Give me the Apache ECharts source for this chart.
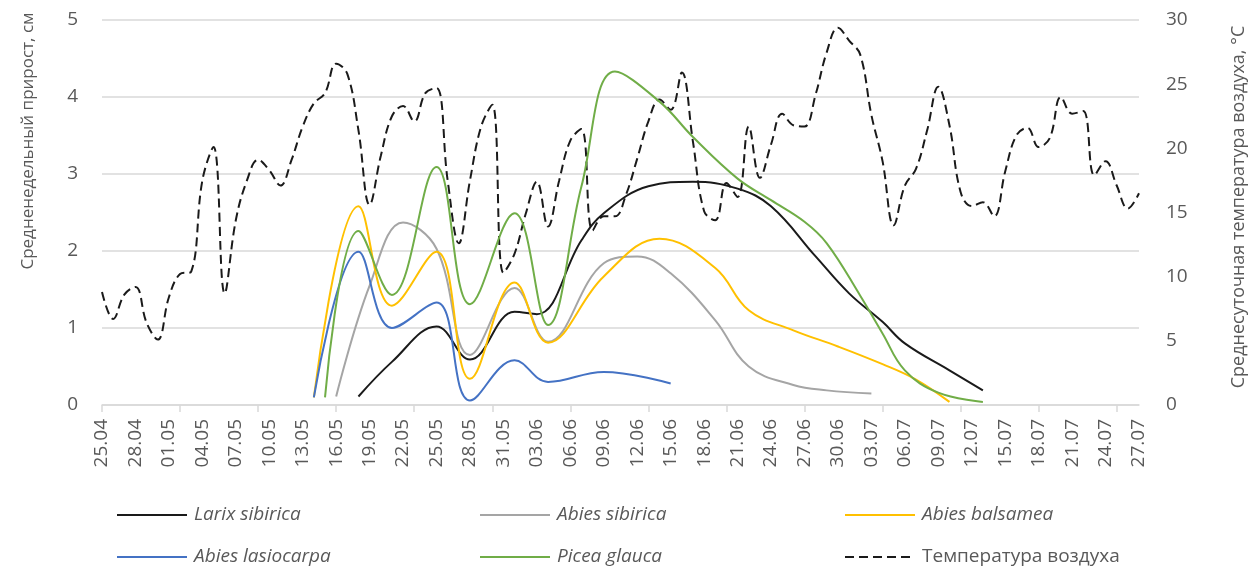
<!DOCTYPE html>
<html>
<head>
<meta charset="utf-8">
<script src="https://cdn.jsdelivr.net/npm/echarts@6/dist/echarts.min.js"></script>
<style>
html,body{margin:0;padding:0;background:#fff;}
#chart{width:1248px;height:570px;}
</style>
</head>
<body>
<div id="chart"></div>
<script>
// Daily categories 25.04 – 27.07
const dates = [
'25.04','26.04','27.04','28.04','29.04','30.04',
'01.05','02.05','03.05','04.05','05.05','06.05','07.05','08.05','09.05','10.05',
'11.05','12.05','13.05','14.05','15.05','16.05','17.05','18.05','19.05','20.05',
'21.05','22.05','23.05','24.05','25.05','26.05','27.05','28.05','29.05','30.05','31.05',
'01.06','02.06','03.06','04.06','05.06','06.06','07.06','08.06','09.06','10.06',
'11.06','12.06','13.06','14.06','15.06','16.06','17.06','18.06','19.06','20.06',
'21.06','22.06','23.06','24.06','25.06','26.06','27.06','28.06','29.06','30.06',
'01.07','02.07','03.07','04.07','05.07','06.07','07.07','08.07','09.07','10.07',
'11.07','12.07','13.07','14.07','15.07','16.07','17.07','18.07','19.07','20.07',
'21.07','22.07','23.07','24.07','25.07','26.07','27.07'
];

// Mean daily air temperature, °C (right axis)
const temperature = [
8.8,6.7,8.6,9.2,6.4,5.1,8.4,10.2,10.4,17.5,
20.1,8.7,14.4,17.5,19.1,18.3,17.1,19.1,21.7,23.5,
24.3,26.6,25.8,21.4,15.6,19.4,22.5,23.3,22.1,24.3,
24.7,17.5,12.6,17.5,21.7,23.4,10.3,11.8,14.9,17.4,
13.9,17.5,20.6,21.5,13.6,14.7,14.7,16.4,19.2,22.1,
23.8,23.0,25.9,20.5,15.1,14.4,17.3,16.2,21.7,17.7,
20.3,22.7,21.8,21.7,24.2,27.5,29.4,28.4,27.3,22.6,
19.0,14.0,17.1,18.4,21.4,24.8,21.8,16.6,15.5,15.8,
14.7,18.2,21.0,21.6,20.1,20.8,24.0,22.7,22.9,17.9,
19.0,17.1,15.3,16.5
];

// Mean weekly growth, cm (left axis): [date, value]
const larixSibirica = [
['18.05',0.11],['21.05',0.56],['25.05',1.02],['28.05',0.59],['01.06',1.21],['03.06',1.18],
['07.06',2.14],['09.06',2.49],['13.06',2.84],['17.06',2.90],['21.06',2.81],['24.06',2.58],
['28.06',1.93],['01.07',1.45],['04.07',1.08],['06.07',0.80],['10.07',0.45],['13.07',0.19]
];
const abiesSibirica = [
['16.05',0.11],['19.05',1.55],['22.05',2.37],['25.05',2.03],['28.05',0.65],['01.06',1.52],
['04.06',0.82],['09.06',1.84],['12.06',1.93],['15.06',1.71],['19.06',1.10],['22.06',0.50],
['26.06',0.26],['29.06',0.19],['03.07',0.15]
];
const abiesBalsamea = [
['14.05',0.10],['18.05',2.58],['21.05',1.29],['25.05',1.99],['28.05',0.34],['01.06',1.59],
['04.06',0.81],['09.06',1.67],['14.06',2.16],['19.06',1.78],['22.06',1.23],['26.06',0.97],
['30.06',0.76],['04.07',0.53],['07.07',0.33],['10.07',0.04]
];
const abiesLasiocarpa = [
['14.05',0.10],['18.05',1.99],['21.05',1.00],['25.05',1.33],['28.05',0.06],['01.06',0.58],
['04.06',0.30],['09.06',0.43],['15.06',0.28]
];
const piceaGlauca = [
['15.05',0.10],['18.05',2.26],['21.05',1.43],['25.05',3.09],['28.05',1.31],['01.06',2.49],
['04.06',1.04],['07.06',2.84],['10.06',4.33],['14.06',3.94],['17.06',3.48],['21.06',2.94],
['24.06',2.66],['27.06',2.38],['29.06',2.10],['02.07',1.42],['04.07',0.93],['06.07',0.45],
['09.07',0.16],['13.07',0.04]
];

const leftTicks = [0,1,2,3,4,5];
const rightTicks = [0,5,10,15,20,25,30];

const names = ['Larix sibirica','Abies sibirica','Abies balsamea','Abies lasiocarpa','Picea glauca','Температура воздуха'];
const colors = ['#1a1a1a','#a5a5a5','#ffc000','#4472c4','#70ad47','#1a1a1a'];
const growth = [larixSibirica, abiesSibirica, abiesBalsamea, abiesLasiocarpa, piceaGlauca];

const FONT = '"Open Sans", "Noto Sans", sans-serif';
const TXT = '#595959';

const chart = echarts.init(document.getElementById('chart'), null, {renderer:'canvas'});

const series = [{
  name: names[5], type: 'line', yAxisIndex: 1, data: temperature,
  smooth: 0.4, symbol: 'none', z: 1,
  lineStyle: {color: colors[5], width: 2, type: [9,5]},
  itemStyle: {color: colors[5]}
}];
growth.forEach((d, i) => {
  series.push({
    name: names[i], type: 'line', yAxisIndex: 0, data: d,
    smooth: 0.4, symbol: 'none', z: 2,
    lineStyle: {color: colors[i], width: 2},
    itemStyle: {color: colors[i]}
  });
});

// legend layout: [name index, left, top]
const legendPos = [[0,116,504],[3,116,546],[1,479,504],[4,479,546],[2,844,504],[5,844,546]];
const legends = legendPos.map(([k, left, top]) => ({
  orient: 'horizontal', left: left, top: top, padding: 0,
  itemWidth: 70, itemHeight: 14, itemGap: 10,
  selectedMode: false,
  textStyle: {fontFamily: FONT, fontSize: 19, color: TXT, lineHeight: 22,
              fontStyle: k === 5 ? 'normal' : 'italic', padding: [0,0,0,2]},
  itemStyle: {opacity: 0},
  lineStyle: {width: 2},
  data: [names[k]]
}));

chart.setOption({
  animation: false,
  backgroundColor: '#fff',
  grid: {left: 102, right: 109, top: 20, bottom: 165, containLabel: false},
  xAxis: {
    type: 'category', data: dates, boundaryGap: false,
    axisLine: {show: true, lineStyle: {color: '#d9d9d9', width: 1.5}},
    axisTick: {show: true, interval: (i) => i % 7 === 0, length: 7, lineStyle: {color: '#d9d9d9', width: 1.5}},
    axisLabel: {interval: (i) => i % 3 === 0, rotate: 90, margin: 14, fontFamily: FONT, fontSize: 19, color: TXT},
    splitLine: {show: false}
  },
  yAxis: [{
    type: 'value', min: leftTicks[0], max: leftTicks[leftTicks.length-1], interval: 1,
    axisLine: {show: false}, axisTick: {show: false},
    axisLabel: {margin: 24, fontFamily: FONT, fontSize: 19, color: TXT},
    splitLine: {show: true, lineStyle: {color: '#d9d9d9', width: 1.5}}
  }, {
    type: 'value', min: rightTicks[0], max: rightTicks[rightTicks.length-1], interval: 5,
    position: 'right',
    axisLine: {show: false}, axisTick: {show: false},
    axisLabel: {margin: 27, fontFamily: FONT, fontSize: 19, color: TXT},
    splitLine: {show: false}
  }],
  legend: legends,
  graphic: [{
    type: 'text', x: 28, y: 141, rotation: Math.PI/2,
    style: {text: 'Средненедельный прирост, см', font: '17px ' + FONT, fill: TXT, align: 'center', verticalAlign: 'middle'}
  }, {
    type: 'text', x: 1239, y: 207, rotation: Math.PI/2,
    style: {text: 'Среднесуточная температура воздуха, °C', font: '18px ' + FONT, fill: TXT, align: 'center', verticalAlign: 'middle'}
  }],
  series: series
});
</script>
</body>
</html>
